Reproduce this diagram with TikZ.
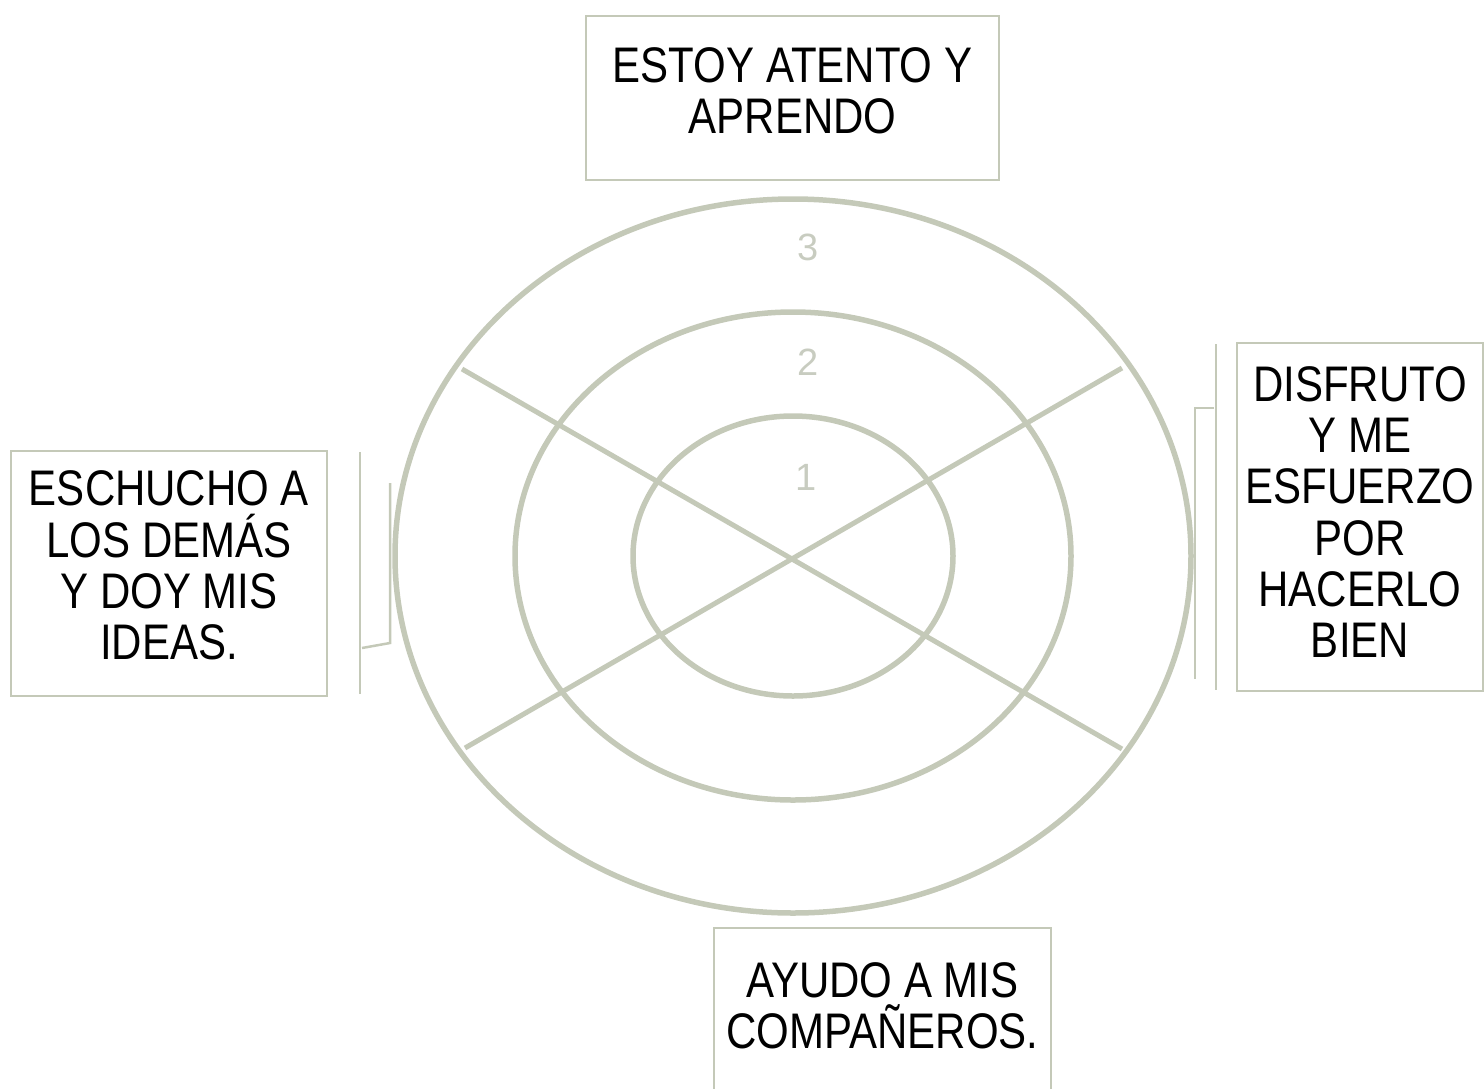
\documentclass[tikz,border=0pt]{standalone}
\usepackage{fontspec}
\setmainfont{Liberation Sans}[FakeStretch=0.84]
\newfontfamily\numfont{Liberation Sans}
\usepackage{tikz}
\usetikzlibrary{positioning}
\definecolor{sage}{RGB}{196,201,184}
\definecolor{sagelight}{RGB}{200,204,192}

\begin{document}
\begin{tikzpicture}[
  x=1pt, y=-1pt,
  ring/.style={draw=sage, line width=5.5pt},
  spoke/.style={draw=sage, line width=5pt},
  textbox/.style={draw=sage, line width=2.5pt, inner sep=0pt},
  boxtext/.style={align=center, inner sep=0pt, font=\fontsize{50}{51.3}\selectfont},
  level/.style={text=sagelight, font=\numfont\fontsize{38}{38}\selectfont},
  brace/.style={draw=sage, line width=2.5pt}
]
\useasboundingbox (0,0) rectangle (1484,1088);
\coordinate (c) at (793,556);
\draw[ring] (c) ellipse [x radius=398pt, y radius=357pt];
\draw[ring] (c) ellipse [x radius=278pt, y radius=244pt];
\draw[ring] (c) ellipse [x radius=160pt, y radius=140pt];
% spokes
\coordinate (nw) at (462,369);
\coordinate (se) at (1122,749);
\coordinate (sw) at (465,748);
\coordinate (ne) at (1122,368);
\draw[spoke] (nw) -- (se);
\draw[spoke] (sw) -- (ne);
% levels
\node[level] (l3) at (808,247) {3};
\node[level] (l2) at (808,362) {2};
\node[level] (l1) at (806,477) {1};
% boxes
\node[textbox, minimum width=413pt, minimum height=164pt] (top) at (792.5,98) {};
\node[textbox, minimum width=316pt, minimum height=245pt] (left) at (169,573.5) {};
\node[textbox, minimum width=246pt, minimum height=348pt] (right) at (1360,517) {};
\node[textbox, minimum width=337pt, minimum height=168pt] (bottom) at (882.5,1012) {};
\node[boxtext] (toptext) at ([yshift=7pt]top.center) {ESTOY ATENTO Y\\APRENDO};
\node[boxtext] (lefttext) at ([yshift=8pt]left.center) {ESCHUCHO A\\LOS DEMÁS\\Y DOY MIS\\IDEAS.};
\node[boxtext] (righttext) at ([yshift=5pt]right.center) {DISFRUTO\\Y ME\\ESFUERZO\\POR\\HACERLO\\BIEN};
\node[boxtext] (bottomtext) at (882.5,1006) {AYUDO A MIS\\COMPAÑEROS.};
% side marks
\coordinate (la) at (360,452);
\coordinate (lb) at (360,694);
\coordinate (lc) at (390,483);
\coordinate (ld) at (390,643);
\coordinate (le) at (362,648);
\draw[brace] (la) -- (lb);
\draw[brace] (lc) -- (ld) -- (le);
\coordinate (ra) at (1216,344);
\coordinate (rb) at (1216,690);
\coordinate (rc) at (1214,408);
\coordinate (rd) at (1195,408);
\coordinate (re) at (1195,679);
\draw[brace] (ra) -- (rb);
\draw[brace] (rc) -- (rd) -- (re);
\end{tikzpicture}
\end{document}
